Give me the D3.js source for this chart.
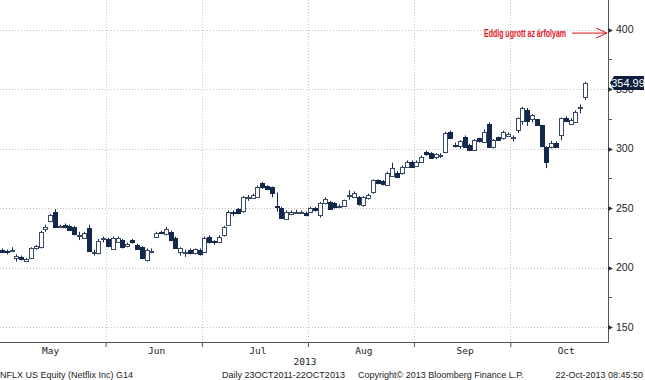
<!DOCTYPE html>
<html><head><meta charset="utf-8">
<script src="https://cdn.jsdelivr.net/npm/d3@7"></script>
<style>body{margin:0;background:#fff}svg{display:block}</style>
</head><body>
<svg id="chart" width="645" height="380"></svg>
<script>
// ---- data ----
const mayDays = [1,2,3,6,7,8,9,10,13,14,15,16,17,20,21,22,23,24,28,29,30,31];
const junDays = [3,4,5,6,7,10,11,12,13,14,17,18,19,20,21,24,25,26,27,28];
const julDays = [1,2,3,5,8,9,10,11,12,15,16,17,18,19,22,23,24,25,26,29,30,31];
const augDays = [1,2,5,6,7,8,9,12,13,14,15,16,19,20,21,22,23,26,27,28,29,30];
const sepDays = [3,4,5,6,9,10,11,12,13,16,17,18,19,20,23,24,25,26,27,30];
const octDays = [1,2,3,4,7,8,9,10,11,14,15,16,17,18,21,22];

const open = [
 215,214,214,208,209,205.5,208,216,217,232,239,247,235,236,235,234,227,225,233,213,212,224,
 224,216,222,223,218,223,219,217,207,214,226,230,228,230,225,213,213,215,212.5,215,
 213,226,222,222,227,236,247,249,247,258.5,258.5,259.5,271,268.5,267.6,251.5,250,241.5,245.5,247,246.6,246,
 247,250,244,254,255.3,254,251,251.7,260.5,259.5,259.5,252.5,258.5,263.6,273.5,272.7,270,277,279.7,279.5,284.7,289,
 286,289,297,296.5,293,294,297,314,303,301.5,310,303,299,308.6,305.7,321,301.5,309.4,308.6,311,
 309,315.5,322.5,332,324.5,324.5,319.8,301,301.5,305,311.3,325.4,321,322.5,334.5,343.5
];
const high = [
 216,215,217,211,210,208,217,219,231,236,245,249,236,237,236,235,230,230,236,215,224,226,
 225,226,226,224,221,224,220,218,216,216,230,231,234,231,226,217,215,216,216,216,
 226,227,223,227,235,248,248,250,260,261,262,269,272,269,268,263,251,248,248,248.5,248,247,
 251,251,255,259,256,255,253,257,265,264,260,260,262,274,274,273.5,280.5,288,281,285.5,290,290,
 290,294,298,297,296,296,314,315,305,307,311,304,308,309,316,322,308,310,315,313.5,
 311,326,335,334,329,325,320,302,306.5,306,326,327,325.5,332,337,356
];
const low = [
 212,211,213,205,206,204.5,207,215,216,230,238,233,234,233,231,227,223,224,213,210,211,221,
 217,215,221,216,217,220,215,207,205,212,225,228,227,222,216,210,209,211,211,210,
 212,220,219,221,226,235,243,245,246,256,258,259,266,265,259,247,241,240,244,245,245,243,
 246,247,242,253,249,249.5,250,251,257,259,252,251,257,262,270,269,269,276,275,278,284,284,
 285,288,294,292,291,292,296,308,301,300,300.5,298,298.5,305,305,300.5,300,306.5,307.5,310,
 306,313,320,319,322,319,301,283.5,300,301,307,322,320,321.5,329.5,340.8
];
const close = [
 213,213,215,210,207,207,216,218,230,234,244,234,235,234,232,228,227.5,229,214,213,222,224.5,
 218,225,225,217,220,221,215.5,208,215,214,229,229,232,223,217,216,213,212.5,215.5,211.5,
 225,222,221,226,234,247,246,246,259,259,261,268,267.6,266,262.6,251,241.6,247,247,247,246.8,244,
 250,248,254,257.6,249.7,250.4,252,256.7,261,263,253.5,259.5,261,273.5,271,270,279.7,283.6,276.3,284.5,289,284.7,
 289,293,295,292.6,295.4,294.5,313,308.6,302.5,306,301.5,299,307,305.7,314,301.5,307,307,314,312.5,
 310,325.4,333.8,322.5,328,319.8,302,288.5,305,302,325.4,322.5,324,331,335,354.99
];
const yTicks = [150,200,250,300,350,400];
const yMinor = [175,225,275,325,375];
const monthNames = ["May","Jun","Jul","Aug","Sep","Oct"];
const monthLabelDates = ["2013-05-15","2013-06-17","2013-07-17","2013-08-16","2013-09-17","2013-10-16"];
const yearLabel = "2013";
const lastPrice = "354.99";
const annotation = "Eddig ugrott az árfolyam";
const annotationLevel = 397;
const footer = ["NFLX US Equity (Netflix Inc) G14","Daily 23OCT2011-22OCT2013","Copyright© 2013 Bloomberg Finance L.P.","22-Oct-2013 08:45:50"];

// ---- build ----
const pad = n => String(n).padStart(2,"0");
const dates = [].concat(
  mayDays.map(d=>`2013-05-${pad(d)}`), junDays.map(d=>`2013-06-${pad(d)}`),
  julDays.map(d=>`2013-07-${pad(d)}`), augDays.map(d=>`2013-08-${pad(d)}`),
  sepDays.map(d=>`2013-09-${pad(d)}`), octDays.map(d=>`2013-10-${pad(d)}`));
const data = dates.map((d,i)=>({date:d,i,o:open[i],h:high[i],l:low[i],c:close[i]}));

const plotR=608, plotB=342;
const svg = d3.select("#chart");
const x = d3.scaleLinear().domain([0, dates.length-1]).range([2, 585]);
const y = d3.scaleLinear().domain([137.4, 424.8]).range([plotB, 0]);

const boundaries = [];
for (let i=1;i<dates.length;i++) if (dates[i].slice(5,7)!==dates[i-1].slice(5,7)) boundaries.push(i-0.5);

const grid = svg.append("g").attr("stroke","#c4c4c4").attr("stroke-width",1).attr("stroke-dasharray","1,2");
grid.selectAll("line.h").data(yTicks).join("line")
  .attr("x1",0).attr("x2",plotR).attr("y1",d=>Math.round(y(d))+0.5).attr("y2",d=>Math.round(y(d))+0.5);
grid.selectAll("line.v").data(boundaries).join("line")
  .attr("y1",0).attr("y2",plotB).attr("x1",d=>Math.round(x(d))+0.5).attr("x2",d=>Math.round(x(d))+0.5);

// candles
const dark = "#14284b";
const bw = 4;
const cg = svg.append("g");
cg.selectAll("line.wick").data(data).join("line")
  .attr("x1",d=>Math.round(x(d.i))+0.5).attr("x2",d=>Math.round(x(d.i))+0.5)
  .attr("y1",d=>y(d.h)).attr("y2",d=>y(d.l)).attr("stroke",dark).attr("stroke-width",1);
cg.selectAll("rect.body").data(data).join("rect")
  .attr("x",d=>Math.round(x(d.i))-bw/2+0.5)
  .attr("width",bw)
  .attr("y",d=>Math.round(y(Math.max(d.o,d.c)))+0.5)
  .attr("height",d=>Math.max(1, Math.round(Math.abs(y(d.o)-y(d.c)))))
  .attr("fill",d=>d.c>=d.o? "#fff" : dark)
  .attr("stroke",d=>d.c>=d.o? "#3a4a66" : dark).attr("stroke-width",1);

// axis lines
svg.append("line").attr("x1",plotR+0.5).attr("x2",plotR+0.5).attr("y1",0).attr("y2",plotB+0.5).attr("stroke","#555");
svg.append("line").attr("x1",0).attr("x2",plotR+0.5).attr("y1",plotB+0.5).attr("y2",plotB+0.5).attr("stroke","#555");

// y axis
const yAxis = d3.axisRight(y).tickValues(yTicks).tickSize(0).tickPadding(8);
const ya = svg.append("g").attr("transform",`translate(${plotR},0)`).call(yAxis);
ya.select(".domain").remove();
ya.selectAll("text").attr("font-family","Liberation Sans, Arial, sans-serif").attr("font-size",10.5).attr("fill","#222");
svg.append("g").selectAll("path").data(yTicks).join("path")
  .attr("d",d=>{const yy=Math.round(y(d))+0.5;return `M${plotR},${yy-2.5}L${plotR+5},${yy}L${plotR},${yy+2.5}Z`;})
  .attr("fill","#333");
svg.append("g").selectAll("line").data(yMinor).join("line")
  .attr("x1",plotR).attr("x2",plotR+4).attr("y1",d=>Math.round(y(d))+0.5).attr("y2",d=>Math.round(y(d))+0.5)
  .attr("stroke","#555");

// x axis ticks and labels
const xa = svg.append("g").attr("transform",`translate(0,${plotB})`)
  .call(d3.axisBottom(x).tickValues(boundaries).tickSize(5).tickFormat(""));
xa.select(".domain").remove();
xa.selectAll("line").attr("stroke","#555");
const labelIdx = monthLabelDates.map(d=>dates.indexOf(d));
const xl = svg.append("g").attr("transform",`translate(0,${plotB})`)
  .call(d3.axisBottom(x).tickValues(labelIdx).tickSize(0).tickPadding(5).tickFormat((d,i)=>monthNames[i]));
xl.select(".domain").remove();
xl.selectAll("text").attr("font-family","DejaVu Sans Mono, monospace").attr("font-size",9.5).attr("fill","#222");
svg.append("text").attr("x",x((boundaries[1]+boundaries[2])/2)+50).attr("y",365)
  .attr("text-anchor","middle").attr("font-family","DejaVu Sans Mono, monospace").attr("font-size",9.5).attr("fill","#222").text(yearLabel);

// footer (natural widths, no overlap)
const ff = "Liberation Sans, Arial, sans-serif";
const foot = svg.append("g").attr("font-family",ff).attr("font-size",9).attr("fill","#222");
foot.append("text").attr("x",0).attr("y",378).text(footer[0]);
foot.append("text").attr("x",222).attr("y",378).text(footer[1]);
foot.append("text").attr("x",358).attr("y",378).text(footer[2]);
foot.append("text").attr("x",643).attr("y",378).attr("text-anchor","end").text(footer[3]);

// last price tag
const ly = y(+lastPrice);
svg.append("path").attr("d",`M${plotR+2},${ly}L${plotR+6},${ly-7}L644,${ly-7}L644,${ly+7}L${plotR+6},${ly+7}Z`).attr("fill","#0e1f3d");
svg.append("text").attr("x",628).attr("y",ly+4).attr("text-anchor","middle")
  .attr("font-family",ff).attr("font-size",11).attr("fill","#fff").text(lastPrice);

// annotation
const ay = y(annotationLevel);
const red = "#e3141c";
svg.append("text").attr("x",566).attr("y",ay+4).attr("text-anchor","end")
  .attr("font-family",ff).attr("font-weight","bold").attr("font-size",11)
  .attr("textLength",82).attr("lengthAdjust","spacingAndGlyphs").attr("fill",red).text(annotation);
svg.append("path").attr("d",`M572,${ay}L${plotR-1},${ay}M${plotR-12},${ay-5}L${plotR-1},${ay}L${plotR-12},${ay+5}`)
  .attr("stroke",red).attr("stroke-width",1).attr("fill","none");
</script>
</body></html>
